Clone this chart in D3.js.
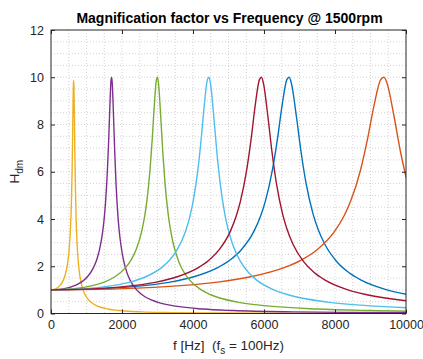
<!DOCTYPE html>
<html><head><meta charset="utf-8">
<script src="https://cdn.jsdelivr.net/npm/d3@7"></script>
<style>
body{margin:0;background:#fff;}
svg{display:block;font-family:"Liberation Sans",Arial,Helvetica,sans-serif;}
</style></head>
<body><svg id="c" width="423" height="359"></svg>
<script>
// ---- data ----
const xTicks = [0, 2000, 4000, 6000, 8000, 10000];
const yTicks = [0, 2, 4, 6, 8, 10, 12];

const freqBlue = [0,1342,2684,3355,4026,4697,5033,5368,5704,5905,6039,6240,6375,6509,6643,6710,6777,6911,7046,7180,7381,7515,7717,8052,8388,8723,9394,10065];
const hBlue    = [1,1.042,1.189,1.330,1.556,1.943,2.253,2.712,3.446,4.129,4.757,6.097,7.346,8.803,9.90,10.0,9.71,8.36,6.815,5.552,4.218,3.598,2.921,2.193,1.735,1.424,1.031,0.794];

const freqOrange = [0,1876,3752,4690,5628,6566,7035,7504,7973,8254,8442,8723,8911,9099,9286,9380,9474,9661,9849,10037];
const hOrange    = [1,1.042,1.189,1.330,1.556,1.943,2.253,2.712,3.446,4.129,4.757,6.097,7.346,8.803,9.90,10.0,9.71,8.36,6.815,5.552];

const freqYellow = [0,128,256,320,384,448,480,512,544,563,576,595,608,621,634,640,646,659,672,685,704,717,736,768,800,832,896,960,1120,1280,1600,1920,2560,3200,4480,6400,9984];
const hYellow    = [1,1.042,1.189,1.330,1.556,1.943,2.253,2.712,3.446,4.129,4.757,6.097,7.346,8.803,9.80,9.85,9.60,8.36,6.815,5.552,4.218,3.598,2.921,2.193,1.735,1.424,1.031,0.794,0.483,0.333,0.190,0.125,0.067,0.042,0.021,0.010,0.004];

const freqPurple = [0,342,684,855,1026,1197,1283,1368,1454,1505,1539,1590,1625,1659,1693,1710,1727,1761,1796,1830,1881,1915,1967,2052,2138,2223,2394,2565,2993,3420,4275,5130,6840,8550,11970];
const hPurple    = [1,1.042,1.189,1.330,1.556,1.943,2.253,2.712,3.446,4.129,4.757,6.097,7.346,8.803,9.90,10.0,9.71,8.36,6.815,5.552,4.218,3.598,2.921,2.193,1.735,1.424,1.031,0.794,0.483,0.333,0.190,0.125,0.067,0.042,0.021];

const freqGreen = [0,600,1200,1500,1800,2100,2250,2400,2550,2640,2700,2790,2850,2910,2970,3000,3030,3090,3150,3210,3300,3360,3450,3600,3750,3900,4200,4500,5250,6000,7500,9000,12000];
const hGreen    = [1,1.042,1.189,1.330,1.556,1.943,2.253,2.712,3.446,4.129,4.757,6.097,7.346,8.803,9.90,10.0,9.71,8.36,6.815,5.552,4.218,3.598,2.921,2.193,1.735,1.424,1.031,0.794,0.483,0.333,0.190,0.125,0.067];

const freqLightBlue = [0,890,1780,2225,2670,3115,3338,3560,3783,3916,4005,4139,4228,4317,4406,4450,4495,4584,4673,4762,4895,4984,5118,5340,5563,5785,6230,6675,7788,8900,11125];
const hLightBlue    = [1,1.042,1.189,1.330,1.556,1.943,2.253,2.712,3.446,4.129,4.757,6.097,7.346,8.803,9.90,10.0,9.71,8.36,6.815,5.552,4.218,3.598,2.921,2.193,1.735,1.424,1.031,0.794,0.483,0.333,0.190];

const freqDarkRed = [0,1186,2372,2965,3558,4151,4448,4744,5041,5218,5337,5515,5634,5752,5871,5930,5989,6108,6227,6345,6523,6642,6820,7116,7413,7709,8302,8895,10378];
const hDarkRed    = [1,1.042,1.189,1.330,1.556,1.943,2.253,2.712,3.446,4.129,4.757,6.097,7.346,8.803,9.90,10.0,9.71,8.36,6.815,5.552,4.218,3.598,2.921,2.193,1.735,1.424,1.031,0.794,0.483];

const seriesColors = ["#0072BD","#D95319","#EDB120","#7E2F8E","#77AC30","#4DBEEE","#A2142F"];
const seriesFreqs = [freqBlue, freqOrange, freqYellow, freqPurple, freqGreen, freqLightBlue, freqDarkRed];
const seriesVals  = [hBlue, hOrange, hYellow, hPurple, hGreen, hLightBlue, hDarkRed];

// ---- drawing ----
const svg = d3.select("#c");
const L = 51, R = 406, T = 30, B = 313.5;
const x = d3.scaleLinear().domain([0, 10000]).range([L, R]);
const y = d3.scaleLinear().domain([0, 12]).range([B, T]);
const axisCol = "#262626";

// grid (major + minor, dotted)
const g = svg.append("g");
d3.range(500, 10000, 500).forEach(v => {
  g.append("line").attr("x1", x(v)).attr("x2", x(v)).attr("y1", T).attr("y2", B)
   .attr("stroke", "#c8c8c8").attr("stroke-width", 0.8).attr("stroke-dasharray", "1,2");
});
d3.range(0.5, 12, 0.5).forEach(v => {
  g.append("line").attr("x1", L).attr("x2", R).attr("y1", y(v)).attr("y2", y(v))
   .attr("stroke", "#c8c8c8").attr("stroke-width", 0.8).attr("stroke-dasharray", "1,2");
});

// curves
svg.append("clipPath").attr("id", "pc").append("rect")
  .attr("x", L).attr("y", T - 2).attr("width", R - L).attr("height", B - T + 2);
const line = d3.line().x(d => x(d[0])).y(d => y(d[1])).curve(d3.curveMonotoneX);
const cg = svg.append("g").attr("clip-path", "url(#pc)");
seriesFreqs.forEach((fs, i) => {
  const pts = fs.map((f, j) => [f, seriesVals[i][j]]);
  cg.append("path").datum(pts).attr("d", line).attr("fill", "none")
    .attr("stroke", seriesColors[i]).attr("stroke-width", 1.4).attr("stroke-linejoin", "round");
});

// axes
const fmt = d3.format("d");
const ax = svg.append("g").attr("transform", `translate(0,${B})`)
  .call(d3.axisBottom(x).tickValues(xTicks).tickFormat(fmt).tickSizeInner(-4).tickSizeOuter(0).tickPadding(7));
const ay = svg.append("g").attr("transform", `translate(${L},0)`)
  .call(d3.axisLeft(y).tickValues(yTicks).tickFormat(fmt).tickSizeInner(-4).tickSizeOuter(0).tickPadding(7));
const axT = svg.append("g").attr("transform", `translate(0,${T})`)
  .call(d3.axisTop(x).tickValues(xTicks).tickFormat("").tickSizeInner(-4).tickSizeOuter(0));
const ayR = svg.append("g").attr("transform", `translate(${R},0)`)
  .call(d3.axisRight(y).tickValues(yTicks).tickFormat("").tickSizeInner(-4).tickSizeOuter(0));
[ax, ay, axT, ayR].forEach(a => {
  a.select(".domain").remove();
  a.selectAll("line").attr("stroke", axisCol);
  a.selectAll("text").attr("fill", axisCol).style("font-size", "12.5px")
    .style("font-family", '"Liberation Sans",Arial,sans-serif');
});
svg.append("rect").attr("x", L).attr("y", T).attr("width", R - L).attr("height", B - T)
  .attr("fill", "none").attr("stroke", axisCol).attr("stroke-width", 1);

// title
svg.append("text").attr("x", (L + R) / 2 + 1).attr("y", 23).attr("text-anchor", "middle")
  .style("font-size", "14px").style("font-weight", "bold").attr("fill", "#000")
  .text("Magnification factor vs Frequency @ 1500rpm");

// x label
const xl = svg.append("text").attr("x", (L + R) / 2).attr("y", 350).attr("text-anchor", "middle")
  .style("font-size", "13.5px").style("white-space", "pre").attr("fill", axisCol);
xl.append("tspan").text("f [Hz]  (f");
xl.append("tspan").attr("dy", 4).style("font-size", "10px").text("s");
xl.append("tspan").attr("dy", -4).text(" = 100Hz)");

// y label
const yl = svg.append("text").attr("transform", `translate(19,${(T + B) / 2}) rotate(-90)`)
  .attr("text-anchor", "middle").style("font-size", "13.5px").attr("fill", axisCol);
yl.append("tspan").text("H");
yl.append("tspan").attr("dy", 4).style("font-size", "10px").text("dm");
</script></body></html>
